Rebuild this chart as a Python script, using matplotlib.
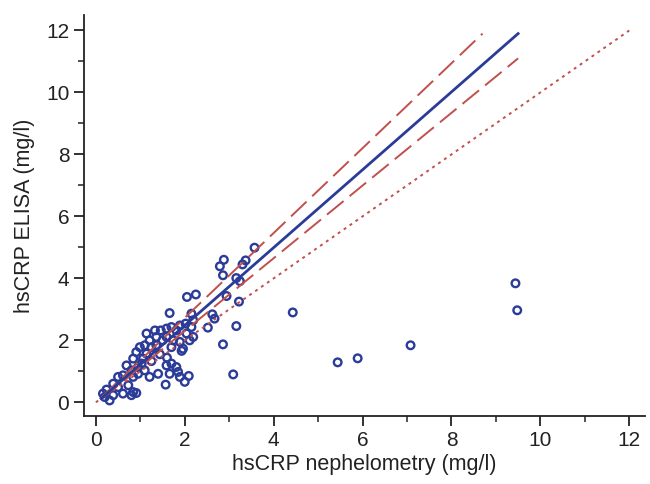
import numpy as np
import matplotlib
matplotlib.use('Agg')
import matplotlib.pyplot as plt
from matplotlib.ticker import MultipleLocator

plt.rcParams['font.family'] = ['Liberation Sans', 'DejaVu Sans']

# hsCRP nephelometry (x) vs ELISA (y), mg/l
neph = [3.57, 2.88, 2.79, 2.86, 3.30, 3.37, 3.16, 3.24, 2.05, 2.25, 2.94, 3.22,
        1.66, 2.15, 2.62, 2.67, 2.52, 3.16, 2.86, 3.09, 1.93,
        4.43, 5.44, 5.89, 7.08, 9.44, 9.48,
        1.14, 1.33, 1.46, 1.59, 1.70, 1.81, 1.89, 2.02, 2.04, 2.15,
        1.21, 0.99, 0.91, 1.25, 1.36, 1.50, 1.59, 1.74, 1.89, 1.70,
        1.44, 1.60, 0.84, 1.06, 1.25, 0.69, 0.80, 1.10, 1.21, 1.40,
        1.59, 1.70, 1.81, 1.85, 1.66, 1.89, 2.00, 2.09, 1.57, 0.61,
        0.50, 0.39, 0.50, 0.61, 0.80, 0.84, 0.91, 0.73, 0.24, 0.16,
        0.20, 0.31, 0.39, 0.84, 0.95, 0.95, 1.03, 1.14, 1.10, 1.36,
        1.96, 2.11, 2.19, 2.19]
elisa = [4.99, 4.60, 4.39, 4.10, 4.45, 4.58, 4.01, 3.91, 3.40, 3.48, 3.43, 3.25,
         2.88, 2.86, 2.84, 2.70, 2.41, 2.46, 1.87, 0.90, 1.66,
         2.90, 1.29, 1.42, 1.84, 3.84, 2.97,
         2.22, 2.32, 2.32, 2.38, 2.43, 2.32, 2.48, 2.54, 2.22, 2.43,
         2.00, 1.78, 1.62, 1.78, 1.84, 2.00, 2.11, 2.00, 1.95, 1.78,
         1.55, 1.44, 1.41, 1.41, 1.33, 1.19, 1.03, 1.03, 0.82, 0.92,
         1.19, 1.25, 1.14, 0.98, 0.92, 0.82, 0.66, 0.85, 0.57, 0.87,
         0.82, 0.60, 0.49, 0.28, 0.23, 0.33, 0.30, 0.55, 0.41, 0.28,
         0.17, 0.06, 0.23, 0.82, 0.92, 1.14, 1.25, 1.57, 1.84, 2.11,
         1.73, 2.00, 2.11, 2.65]

# regression line and its confidence bounds (end points)
fit_x = [0.12, 9.5]
fit_y = [0.12, 11.9]
upper_x = [0.12, 8.7]
upper_y = [0.15, 11.9]
lower_x = [0.12, 9.5]
lower_y = [0.10, 11.1]
ident = [0, 12]

blue = '#2b3b98'
red = '#c0504d'
txt = '#222222'

fig = plt.figure(figsize=(6.5, 4.84), dpi=100)
ax = fig.add_axes([0.129, 0.140, 0.863, 0.829])

ax.scatter(neph, elisa, s=30, facecolors='none', edgecolors=blue, linewidths=1.7, zorder=2)
ax.plot(ident, ident, color=red, lw=1.4, dashes=(1.5, 2.2), zorder=3)
ax.plot(upper_x, upper_y, color=red, lw=1.4, dashes=(11, 4), zorder=3)
ax.plot(lower_x, lower_y, color=red, lw=1.4, dashes=(11, 4), zorder=3)
ax.plot(fit_x, fit_y, color=blue, lw=2, zorder=4)

ax.set_xlim(-0.27, 12.35)
ax.set_ylim(-0.45, 12.5)
ax.spines['top'].set_visible(False)
ax.spines['right'].set_visible(False)
for s in ['left', 'bottom']:
    ax.spines[s].set_linewidth(1.3)
    ax.spines[s].set_color(txt)

ax.xaxis.set_major_locator(MultipleLocator(2))
ax.yaxis.set_major_locator(MultipleLocator(2))
ax.xaxis.set_minor_locator(MultipleLocator(1))
ax.yaxis.set_minor_locator(MultipleLocator(1))
ax.tick_params(which='major', length=7, width=1.3, labelsize=15, colors=txt)
ax.tick_params(which='minor', length=4, width=1.1, colors=txt)

ax.set_xlabel('hsCRP nephelometry (mg/l)', fontsize=15.5, color=txt, labelpad=3)
ax.set_ylabel('hsCRP ELISA (mg/l)', fontsize=15.5, color=txt, labelpad=8)

fig.savefig('out.png', dpi=100)
